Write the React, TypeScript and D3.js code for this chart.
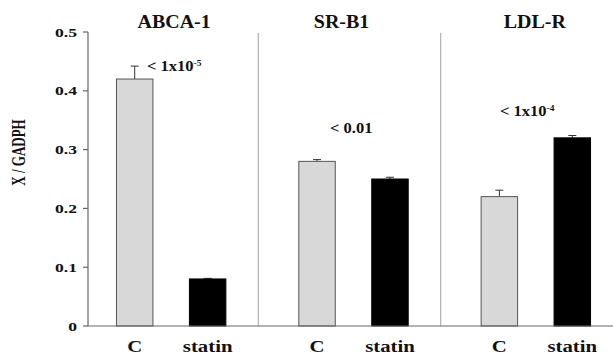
import React from "react";
import * as d3 from "d3";

const groups = ["ABCA-1", "SR-B1", "LDL-R"];
const conditions = ["C", "statin"];
const controlValues = [0.42, 0.28, 0.22];
const statinValues = [0.08, 0.25, 0.32];
const controlErrors = [0.022, 0.003, 0.011];
const statinErrors = [0.001, 0.003, 0.004];
const yTicks = [0, 0.1, 0.2, 0.3, 0.4, 0.5];
const yTickLabels = ["0", "0.1", "0.2", "0.3", "0.4", "0.5"];
const pMain = ["< 1x10", "< 0.01", "< 1x10"];
const pSup = ["-5", "", "-4"];
const yLabel = "X / GADPH";

const W = 613;
const H = 356;
const FONT = "'Liberation Serif', 'Times New Roman', serif";

export default function App() {
  const y = d3.scaleLinear().domain([0, 0.5]).range([326, 32]);
  const gx = d3.scaleBand<string>().domain(groups).range([80, 627]).padding(0);
  const ix = d3
    .scaleBand<string>()
    .domain(conditions)
    .range([0, gx.bandwidth()])
    .paddingInner(0.5)
    .paddingOuter(0.5);

  const axisX = 88;
  const titleDx = [3, -12, -1];
  const pY = [71, 133, 116];
  const pX = [147, 330, 500];

  const bars = groups.flatMap((g, i) => [
    { g, c: "C", v: controlValues[i], e: controlErrors[i] },
    { g, c: "statin", v: statinValues[i], e: statinErrors[i] },
  ]);

  return (
    <svg
      width={W}
      height={H}
      style={{ position: "absolute", left: 0, top: 0, background: "#fff" }}
      fontFamily={FONT}
      fontWeight="bold"
    >
      <rect x={0} y={0} width={W} height={H} fill="#fff" />
      {groups.slice(0, -1).map((g) => {
        const x = (gx(g) as number) + gx.bandwidth() - 4;
        return (
          <line key={g} x1={x} x2={x} y1={33} y2={y(0)} stroke="#b0b0b0" strokeWidth={1.2} />
        );
      })}
      {bars.map((b) => {
        const x = (gx(b.g) as number) + (ix(b.c) as number);
        const w = ix.bandwidth();
        const cx = x + w / 2;
        const isC = b.c === "C";
        return (
          <g key={b.g + b.c}>
            <line x1={cx} x2={cx} y1={y(b.v)} y2={y(b.v + b.e)} stroke="#333" strokeWidth={1} />
            <line x1={cx - 4} x2={cx + 4} y1={y(b.v + b.e)} y2={y(b.v + b.e)} stroke="#333" strokeWidth={1} />
            <rect
              x={x}
              y={y(b.v)}
              width={w}
              height={y(0) - y(b.v)}
              fill={isC ? "#d8d8d8" : "#000"}
              stroke={isC ? "#555" : "#000"}
              strokeWidth={1}
            />
          </g>
        );
      })}
      <line x1={axisX} x2={W} y1={y(0)} y2={y(0)} stroke="#666" strokeWidth={1.2} />
      <line x1={axisX} x2={axisX} y1={y(0.5)} y2={y(0)} stroke="#666" strokeWidth={1.2} />
      {yTicks.map((t, i) => (
        <g key={t}>
          <line x1={axisX - 5} x2={axisX} y1={y(t)} y2={y(t)} stroke="#666" strokeWidth={1.2} />
          <text
            transform={`translate(${77},${y(t) + 4.5}) scale(1.35,1)`}
            textAnchor="end"
            fontSize={13}
            fill="#111"
          >
            {yTickLabels[i]}
          </text>
        </g>
      ))}
      <text
        transform={`translate(25,152.5) rotate(-90) scale(1,1.5)`}
        textAnchor="middle"
        fontSize={13}
        fill="#111"
      >
        {yLabel}
      </text>
      {groups.map((g, i) => (
        <text
          key={g}
          transform={`translate(${(gx(g) as number) + gx.bandwidth() / 2 + titleDx[i]},28) scale(1.05,1)`}
          textAnchor="middle"
          fontSize={19}
          fill="#111"
        >
          {g}
        </text>
      ))}
      {bars.map((b) => (
        <text
          key={"l" + b.g + b.c}
          transform={`translate(${(gx(b.g) as number) + (ix(b.c) as number) + ix.bandwidth() / 2},352) scale(1.3,1)`}
          textAnchor="middle"
          fontSize={16}
          fill="#111"
        >
          {b.c}
        </text>
      ))}
      {groups.map((g, i) => (
        <text
          key={"p" + g}
          transform={`translate(${pX[i]},${pY[i]}) scale(1.18,1)`}
          fontSize={14}
          fill="#111"
        >
          {pMain[i]}
          {pSup[i] ? (
            <tspan fontSize={8} dy={-5}>
              {pSup[i]}
            </tspan>
          ) : null}
        </text>
      ))}
    </svg>
  );
}
